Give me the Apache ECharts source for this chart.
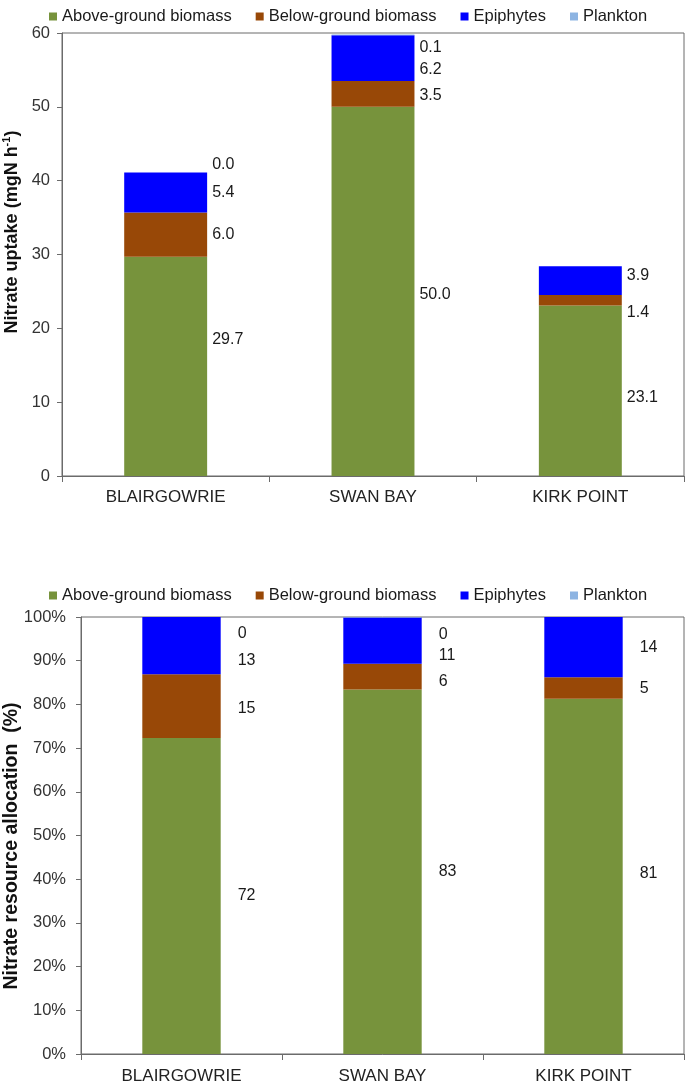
<!DOCTYPE html>
<html>
<head>
<meta charset="utf-8">
<script src="https://cdn.jsdelivr.net/npm/echarts@6/dist/echarts.min.js"></script>
<style>
  html, body { margin: 0; padding: 0; background: #fff; }
  #chart { width: 685px; height: 1088px; }
</style>
</head>
<body>
<div id="chart"></div>
<script>
// sites and groups
const sites = ['BLAIRGOWRIE', 'SWAN BAY', 'KIRK POINT'];
const groups = ['Above-ground biomass', 'Below-ground biomass', 'Epiphytes', 'Plankton'];
const groupColors = ['#77933C', '#984807', '#0000FF', '#8DB4E2'];

// nitrate uptake (mgN h-1)
const aboveUptake = [29.7, 50.0, 23.1];
const belowUptake = [6.0, 3.5, 1.4];
const epiUptake = [5.4, 6.2, 3.9];
const planktonUptake = [0.02, 0.1, null];

// nitrate resource allocation (%)
const abovePct = [72.3, 83.4, 81.3];
const belowPct = [14.6, 5.9, 4.9];
const epiPct = [13.1, 10.6, 13.8];
const planktonPct = [0.05, 0.2, null];

// y ticks
const uptakeTicks = { min: 0, max: 60, step: 10 };
const pctTicks = { min: 0, max: 100, step: 10 };

// label nudges (px, vertical), one row per group, one column per site
const uptakeLabelShift = [[-27, 3, 7], [0, 2, 12], [0, 11, -5], [-8, 13, 0]];
const pctLabelShift = [[0, 0, -3], [2, 5, 1], [15, 15, 0], [17, 17, 0]];

const FONT = 'Liberation Sans, Arial, sans-serif';
const AXIS_COL = '#6b6b6b';

function buildSeries(values, shifts, gi, axisIdx, digits, dist) {
  return {
    name: groups[gi],
    type: 'bar',
    stack: 'st' + axisIdx,
    xAxisIndex: axisIdx,
    yAxisIndex: axisIdx,
    barWidth: axisIdx === 0 ? '40%' : '39%',
    itemStyle: { color: groupColors[gi] },
    label: {
      show: true,
      position: 'right',
      distance: dist,
      fontFamily: FONT,
      fontSize: 16,
      color: '#1a1a1a',
      formatter: p => p.value == null ? '' : Number(p.value).toFixed(digits)
    },
    data: values.map((v, i) => ({ value: v, label: { offset: [0, shifts[gi][i]] } }))
  };
}

function yAx(idx, ticks, fmt, margin) {
  return {
    type: 'value', gridIndex: idx,
    min: ticks.min, max: ticks.max, interval: ticks.step,
    axisLine: { show: true, lineStyle: { color: AXIS_COL, width: 1 } },
    axisTick: { show: true, length: 5, lineStyle: { color: AXIS_COL } },
    splitLine: { show: false },
    axisLabel: { fontFamily: FONT, fontSize: 16.5, color: '#333', margin: margin, formatter: fmt }
  };
}

function xAx(idx, margin) {
  return {
    type: 'category', gridIndex: idx, data: sites,
    axisLine: { show: true, lineStyle: { color: AXIS_COL, width: 1 } },
    axisTick: { show: true, length: 6, lineStyle: { color: AXIS_COL } },
    axisLabel: { fontFamily: FONT, fontSize: 17, color: '#222', margin: margin }
  };
}

function legendAt(top) {
  return {
    data: groups, top: top, left: 44,
    icon: 'rect', itemWidth: 8, itemHeight: 8, itemGap: 24,
    selectedMode: false,
    textStyle: { fontFamily: FONT, fontSize: 16.5, color: '#1a1a1a' }
  };
}

const chart = echarts.init(document.getElementById('chart'), null, { renderer: 'canvas' });

const series = [];
[aboveUptake, belowUptake, epiUptake, planktonUptake].forEach((arr, gi) => {
  series.push(buildSeries(arr, uptakeLabelShift, gi, 0, 1, 5));
});
[abovePct, belowPct, epiPct, planktonPct].forEach((arr, gi) => {
  series.push(buildSeries(arr, pctLabelShift, gi, 1, 0, 17));
});

chart.setOption({
  animation: false,
  backgroundColor: '#fff',
  color: groupColors,
  legend: [legendAt(3), legendAt(582)],
  grid: [
    { left: 62, right: 1, top: 33, height: 443, show: true, borderColor: AXIS_COL, borderWidth: 1 },
    { left: 81, right: 1, top: 617, height: 437, show: true, borderColor: AXIS_COL, borderWidth: 1 }
  ],
  xAxis: [xAx(0, 13), xAx(1, 14)],
  yAxis: [yAx(0, uptakeTicks, '{value}', 12), yAx(1, pctTicks, '{value}%', 15)],
  graphic: [
    {
      type: 'text', x: 12, y: 232, rotation: Math.PI / 2,
      style: {
        text: '{a|Nitrate uptake (mgN h}{s|-1}{a|)}',
        align: 'center', verticalAlign: 'middle',
        rich: {
          a: { fontFamily: FONT, fontSize: 18, fontWeight: 'bold', fill: '#111', lineHeight: 22 },
          s: { fontFamily: FONT, fontSize: 11, fontWeight: 'bold', fill: '#111', verticalAlign: 'top', lineHeight: 12 }
        }
      }
    },
    {
      type: 'text', x: 12, y: 846, rotation: Math.PI / 2,
      style: {
        text: 'Nitrate resource allocation  (%)',
        align: 'center', verticalAlign: 'middle',
        fontFamily: FONT, fontSize: 19.5, fontWeight: 'bold', fill: '#111'
      }
    }
  ],
  series: series
});
</script>
</body>
</html>
